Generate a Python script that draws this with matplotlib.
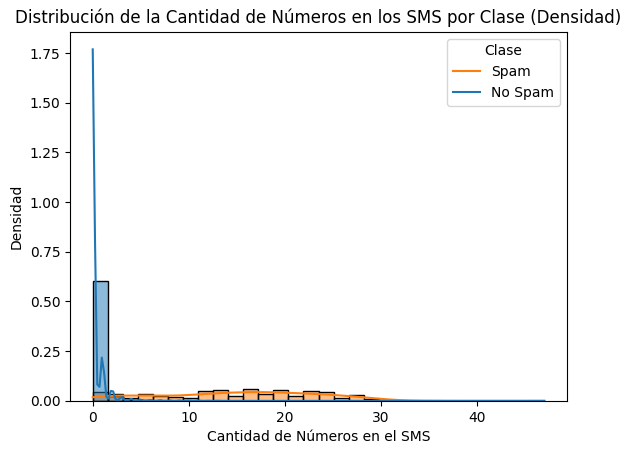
import numpy as np
import pandas as pd
import seaborn as sns
import matplotlib.pyplot as plt
from matplotlib.lines import Line2D

# cantidad de digitos por SMS -> numero de mensajes
ham_valores = [0, 1, 2, 3, 4, 5, 6, 7, 8, 9, 10, 11, 12, 13, 14]
ham_conteos = [4020, 516, 135, 45, 23, 14, 10, 8, 6, 5, 5, 4, 2, 2, 1]

spam_valores = list(range(0, 33)) + [34, 47]
spam_conteos = [28, 25, 21, 20, 18, 22, 21, 29, 13, 13,
                19, 32, 28, 33, 34, 28, 36, 35, 42, 32,
                32, 27, 30, 30, 27, 26, 16, 19, 18, 14,
                3, 2, 1, 1, 1]

clases = ['No Spam', 'Spam']

# reconstruir las observaciones a partir de los conteos
ham = np.repeat(ham_valores, ham_conteos)
spam = np.repeat(spam_valores, spam_conteos)
df = pd.DataFrame({
    'num_digitos': np.concatenate([ham, spam]),
    'Clase': [clases[0]] * len(ham) + [clases[1]] * len(spam),
})

fig = plt.figure(figsize=(6.32, 4.54), dpi=100)
ax = fig.add_axes([0.111, 0.117, 0.786, 0.813])

sns.histplot(data=df, x='num_digitos', hue='Clase', hue_order=clases,
             stat='density', common_norm=False, kde=True, bins=30,
             edgecolor='black', ax=ax)

ax.set_title('Distribución de la Cantidad de Números en los SMS por Clase (Densidad)')
ax.set_xlabel('Cantidad de Números en el SMS')
ax.set_ylabel('Densidad')

handles = [Line2D([], [], color='C1', lw=1.5), Line2D([], [], color='C0', lw=1.5)]
ax.legend(handles, ['Spam', 'No Spam'], title='Clase', loc='upper right')

fig.savefig('out.png', dpi=100)
